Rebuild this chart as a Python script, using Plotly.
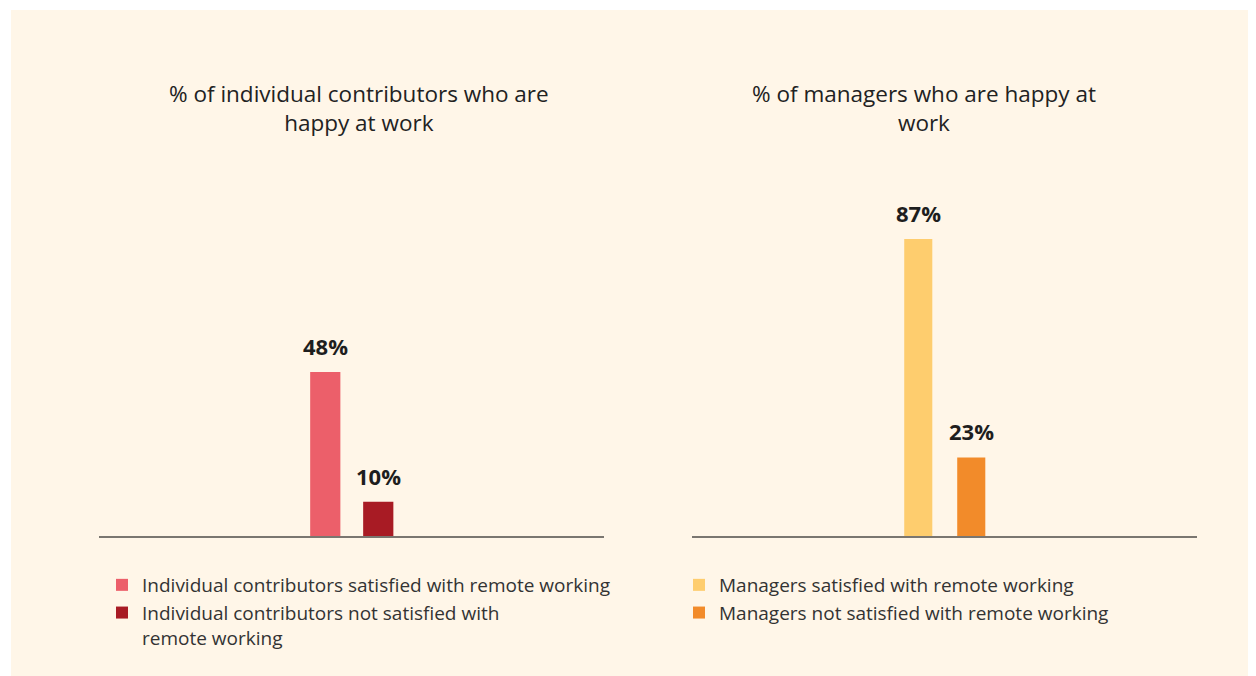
import plotly.graph_objects as go
from plotly.subplots import make_subplots

# data
groups = ["Satisfied", "Not satisfied"]
ic_values = [48, 10]
mgr_values = [87, 23]
ic_names = [
    "Individual contributors satisfied with remote working",
    "Individual contributors not satisfied with<br>remote working",
]
mgr_names = [
    "Managers satisfied with remote working",
    "Managers not satisfied with remote working",
]
ic_colors = ["#EC5F6A", "#A81B24"]
mgr_colors = ["#FECD6E", "#F28B2A"]
titles = [
    "% of individual contributors who are<br>happy at work",
    "% of managers who are happy at<br>work",
]

# page has an 8px body margin, so the figure starts at (8, 8)
OFF = 8
W, H = 1256 - OFF, 676 - OFF
FONT = "Open Sans"


def fx(px):
    return (px - OFF) / W


def fy(py):
    return 1 - (py - OFF) / H


fig = make_subplots(rows=1, cols=2)

for i in range(2):
    fig.add_trace(
        go.Bar(
            x=[groups[i]],
            y=[ic_values[i]],
            name=ic_names[i],
            marker=dict(color=ic_colors[i], line=dict(width=0)),
            width=0.57,
            legend="legend",
        ),
        row=1,
        col=1,
    )
    fig.add_trace(
        go.Bar(
            x=[groups[i]],
            y=[mgr_values[i]],
            name=mgr_names[i],
            marker=dict(color=mgr_colors[i], line=dict(width=0)),
            width=0.53,
            legend="legend2",
        ),
        row=1,
        col=2,
    )

# value labels above bars
for xa, ya, vals in [("x", "y", ic_values), ("x2", "y2", mgr_values)]:
    for g, v in zip(groups, vals):
        fig.add_annotation(
            x=g, y=v, xref=xa, yref=ya,
            text=f"<b>{v}%</b>",
            showarrow=False,
            yanchor="bottom",
            yshift=9,
            font=dict(family=FONT, size=22, color="#1e1e1e"),
        )

# panel titles
for cx, t in zip([359, 924], titles):
    fig.add_annotation(
        x=fx(cx), y=fy(108), xref="paper", yref="paper",
        text=t, showarrow=False,
        xanchor="center", yanchor="middle",
        font=dict(family=FONT, size=22.5, color="#222222"),
    )

# cream card
fig.add_shape(
    type="rect", xref="paper", yref="paper",
    x0=fx(11), x1=1.01, y0=-0.01, y1=fy(10),
    fillcolor="#FFF6E8", line=dict(width=0), layer="below",
)

axis_common = dict(
    showgrid=False, zeroline=False, showticklabels=False, ticks="",
    showline=True, linecolor="#7a7670", linewidth=1.5,
    range=[-4.27, 5.26], type="category",
)
yaxis_common = dict(
    showgrid=False, zeroline=False, showticklabels=False, ticks="",
    showline=False, range=[0, 100],
    domain=[fy(536), fy(536 - 341.5)],
)

legend_common = dict(
    xanchor="left", yanchor="top",
    bgcolor="rgba(0,0,0,0)",
    font=dict(family=FONT, size=19, color="#333333"),
    valign="top", tracegroupgap=0, itemclick=False, itemdoubleclick=False,
)

fig.update_layout(
    width=W,
    height=H,
    margin=dict(l=0, r=0, t=0, b=0),
    paper_bgcolor="#FFFFFF",
    plot_bgcolor="rgba(0,0,0,0)",
    barmode="overlay",
    font=dict(family=FONT, color="#333333"),
    xaxis=dict(axis_common, domain=[fx(99), fx(604)]),
    xaxis2=dict(axis_common, domain=[fx(692), fx(1197)]),
    yaxis=yaxis_common,
    yaxis2=yaxis_common,
    showlegend=True,
    legend=dict(legend_common, x=fx(102), y=fy(566)),
    legend2=dict(legend_common, x=fx(679), y=fy(566)),
)

fig.write_html("out.html")
